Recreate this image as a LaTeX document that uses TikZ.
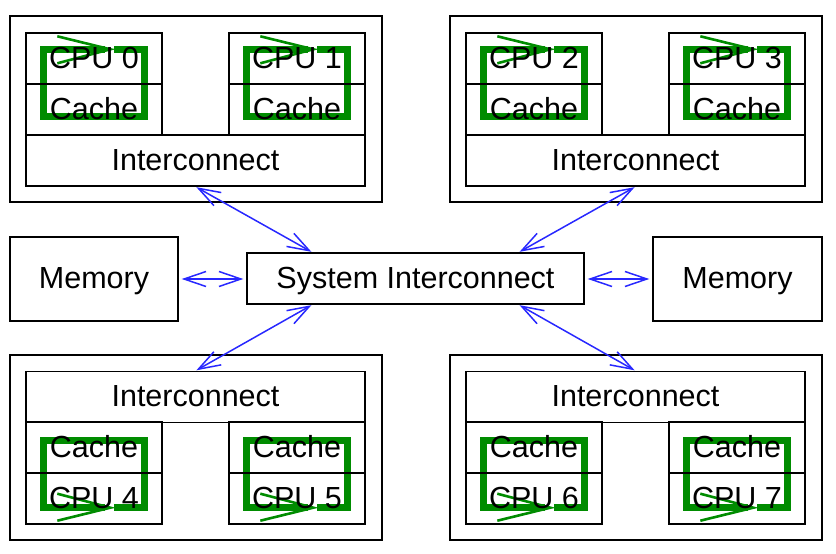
\documentclass[tikz,border=0pt]{standalone}
\usepackage{fontspec}
\setmainfont{Liberation Sans}
\usetikzlibrary{arrows.meta,calc}
\pgfdeclarelayer{bg}
\pgfsetlayers{bg,main}
\definecolor{loopgreen}{RGB}{0,140,0}
\definecolor{linkblue}{RGB}{40,40,255}
\newcommand\greenloop[2]{%
  \begin{pgfonlayer}{bg}
  \begin{scope}[shift={(#1)}, yscale=#2]
    \draw[loopgreen, line width=6.5pt, line join=miter] (89,17) -- (119,17) -- (119,84) -- (18,84) -- (18,17) -- (80,17);
    \draw[loopgreen, line width=2.6pt, line join=miter] (32,4) -- (85,17) -- (32,31);
  \end{scope}
  \end{pgfonlayer}}
\begin{document}
\begin{tikzpicture}[x=1pt,y=-1pt,
  box/.style={draw=black, line width=1.4pt, inner sep=0pt, text height=21.5pt, text depth=2pt, font=\fontsize{30.5}{36}\selectfont},
  unit/.style={box, minimum width=136pt, minimum height=51pt},
  icbox/.style={box, minimum width=339pt, minimum height=51pt},
  outerbox/.style={draw=black, line width=1.4pt, inner sep=0pt, minimum width=372pt},
  link/.style={linkblue, line width=1.5pt, {Straight Barb[length=22pt,width=15pt,line width=1.5pt]}-{Straight Barb[length=22pt,width=15pt,line width=1.5pt]}},
  ]
\useasboundingbox (0,0) rectangle (836,554);

% top-left quadrant
\node[outerbox, minimum height=186pt] (q0) at (196,109) {};
\node[unit] (cpu0) at (94,58.5) {CPU 0};
\node[unit] (cache0) at (94,109.5) {Cache};
\node[unit] (cpu1) at (297,58.5) {CPU 1};
\node[unit] (cache1) at (297,109.5) {Cache};
\node[icbox] (ic0) at (195.5,160.5) {Interconnect};

% top-right quadrant
\node[outerbox, minimum height=186pt] (q1) at (636,109) {};
\node[unit] (cpu2) at (534,58.5) {CPU 2};
\node[unit] (cache2) at (534,109.5) {Cache};
\node[unit] (cpu3) at (737,58.5) {CPU 3};
\node[unit] (cache3) at (737,109.5) {Cache};
\node[icbox] (ic1) at (635.5,160.5) {Interconnect};

% bottom-left quadrant
\node[outerbox, minimum height=185pt] (q2) at (196,447.5) {};
\node[icbox] (ic2) at (195.5,397) {Interconnect};
\node[unit] (cache4) at (94,447.5) {Cache};
\node[unit] (cpu4) at (94,498.5) {CPU 4};
\node[unit] (cache5) at (297,447.5) {Cache};
\node[unit] (cpu5) at (297,498.5) {CPU 5};

% bottom-right quadrant
\node[outerbox, minimum height=185pt] (q3) at (636,447.5) {};
\node[icbox] (ic3) at (635.5,397) {Interconnect};
\node[unit] (cache6) at (534,447.5) {Cache};
\node[unit] (cpu6) at (534,498.5) {CPU 6};
\node[unit] (cache7) at (737,447.5) {Cache};
\node[unit] (cpu7) at (737,498.5) {CPU 7};

% memories and system interconnect
\node[box, minimum width=168pt, minimum height=84pt] (mem0) at (94,279) {Memory};
\node[box, minimum width=169pt, minimum height=84pt] (mem1) at (737.5,279) {Memory};
\node[box, minimum width=337pt, minimum height=51pt] (sys) at (415.5,278.5) {System Interconnect};

% green loops
\greenloop{cpu0.north west}{1}
\greenloop{cpu1.north west}{1}
\greenloop{cpu2.north west}{1}
\greenloop{cpu3.north west}{1}
\greenloop{cpu4.south west}{-1}
\greenloop{cpu5.south west}{-1}
\greenloop{cpu6.south west}{-1}
\greenloop{cpu7.south west}{-1}

% links
\draw[link, shorten <=1pt, shorten >=1pt] (ic0.south) -- ($(sys.north west)!0.195!(sys.north east)$);
\draw[link, shorten <=1pt, shorten >=1pt] (ic1.south) -- ($(sys.north west)!0.805!(sys.north east)$);
\draw[link, shorten <=1pt, shorten >=1pt] (ic2.north) -- ($(sys.south west)!0.195!(sys.south east)$);
\draw[link, shorten <=1pt, shorten >=1pt] (ic3.north) -- ($(sys.south west)!0.805!(sys.south east)$);
\draw[link, shorten <=3pt, shorten >=3pt] (mem0.east) -- (mem0.east -| sys.west);
\draw[link, shorten <=3pt, shorten >=3pt] (mem1.west) -- (mem1.west -| sys.east);
\end{tikzpicture}
\end{document}
